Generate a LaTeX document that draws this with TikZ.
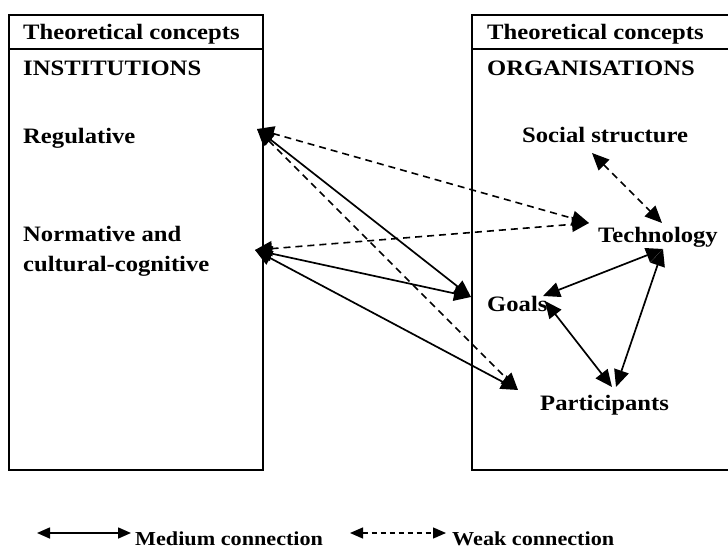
\documentclass[tikz,border=0pt]{standalone}
\usepackage{fontspec}
\setmainfont{Liberation Serif}[FakeStretch=1.12]
\usetikzlibrary{arrows.meta}
\begin{document}
\begin{tikzpicture}[x=1bp,y=-1bp,
  frame/.style={line width=2bp},
  lbl/.style={anchor=base west,inner sep=0pt,font=\fontsize{22bp}{26bp}\selectfont\bfseries},
  keylbl/.style={anchor=base west,inner sep=0pt,font=\fontsize{19.8bp}{23bp}\selectfont\bfseries},
  tip/.tip={Triangle[length=17bp,width=15bp]},
  smalltip/.tip={Triangle[length=13bp,width=11bp]},
  medium/.style={line width=1.7bp,{tip}-{tip}},
  weak/.style={line width=1.6bp,dash pattern=on 7bp off 5bp,{tip}-{tip}},
]
\useasboundingbox (0,0) rectangle (728,548);

% institutions column
\draw[frame] (9,15) rectangle (263,470);
\draw[frame] (9,49) -- (263,49);
% organisations column (runs past the right edge)
\draw[frame] (728,15) -- (472,15) -- (472,470) -- (728,470);
\draw[frame] (472,49) -- (728,49);

% texts
\node[lbl] (thL) at (23,40) {Theoretical concepts};
\node[lbl] (inst) at (23,76) {INSTITUTIONS};
\node[lbl] (reg) at (23,144) {Regulative};
\node[lbl] (norm) at (23,242) {Normative and};
\node[lbl] (cult) at (23,272) {cultural-cognitive};

\node[lbl] (thR) at (487,40) {Theoretical concepts};
\node[lbl] (org) at (487,76) {ORGANISATIONS};
\node[lbl] (soc) at (522,143) {Social structure};
\node[lbl] (tech) at (598,243) {Technology};
\node[lbl] (goal) at (487,311) {Goals};
\node[lbl] (part) at (540,410) {Participants};

% connector ports
\coordinate (regP) at (257,129);
\coordinate (normP) at (255,250);
\coordinate (techW) at (589,223);
\coordinate (techN) at (662,223);
\coordinate (techS) at (663,249);
\coordinate (socS) at (592,153);
\coordinate (goalW) at (471,297);
\coordinate (goalE) at (543,296);
\coordinate (goalSE) at (545,301);
\coordinate (partW) at (518,390);
\coordinate (partN) at (612,387);
\coordinate (partNE) at (616,387);

% institutions to organisations
\draw[weak] (regP) -- (techW);
\draw[medium] (regP) -- (goalW);
\draw[weak] (regP) -- (partW);
\draw[weak] (normP) -- (techW);
\draw[medium] (normP) -- (goalW);
\draw[medium] (normP) -- (partW);

% within organisations
\draw[weak] (socS) -- (techN);
\draw[medium] (techS) -- (goalE);
\draw[medium] (goalSE) -- (partN);
\draw[medium] (techS) -- (partNE);

% key
\coordinate (k1a) at (37,533);
\coordinate (k1b) at (131,533);
\coordinate (k2a) at (350,533);
\coordinate (k2b) at (446,533);
\draw[line width=1.6bp,{smalltip}-{smalltip}] (k1a) -- (k1b);
\draw[line width=1.3bp,dash pattern=on 5bp off 4bp,{smalltip}-{smalltip}] (k2a) -- (k2b);
\node[keylbl] (kmed) at (135,545) {Medium connection};
\node[keylbl] (kweak) at (452,545) {Weak connection};
\end{tikzpicture}
\end{document}
